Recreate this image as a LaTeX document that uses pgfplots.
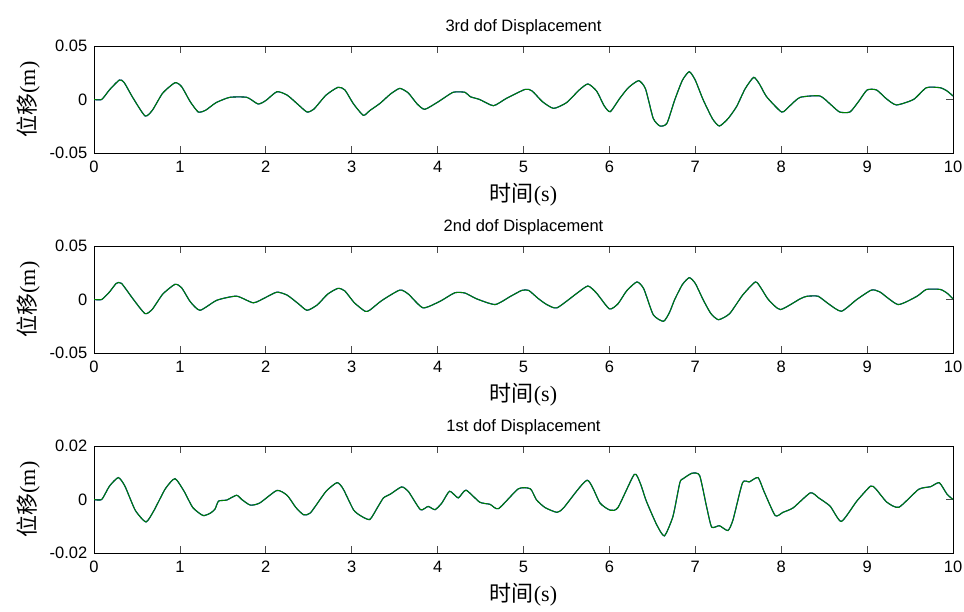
\documentclass[border=0pt]{standalone}
\usepackage{pgfplots}
\pgfplotsset{compat=1.18}
\usepackage{pgfplotstable}
\usepackage{fontspec}
\setmainfont{Liberation Sans}
\newfontfamily\cjk{Noto Sans CJK SC}
\newfontfamily\tms{Liberation Serif}
\definecolor{mgreen}{rgb}{0,0.5,0}

\pgfplotstableread{
t v
0 0
0.09 0
0.18 0.009
0.295 0.0182
0.35 0.016
0.45 0.002
0.594 -0.0154
0.68 -0.01
0.80 0.006
0.943 0.0157
1.02 0.012
1.12 -0.002
1.214 -0.0117
1.30 -0.010
1.42 -0.003
1.58 0.002
1.78 0.002
1.91 -0.0042
2.00 -0.001
2.13 0.0073
2.25 0.004
2.38 -0.005
2.48 -0.0117
2.56 -0.009
2.70 0.004
2.84 0.0114
2.92 0.009
3.02 -0.004
3.135 -0.0148
3.21 -0.0104
3.33 -0.0036
3.45 0.005
3.56 0.0104
3.66 0.006
3.76 -0.004
3.85 -0.0092
4.01 -0.002
4.18 0.0067
4.32 0.0067
4.38 0.0026
4.49 0
4.65 -0.0058
4.80 0.001
5.02 0.0095
5.10 0.008
5.22 -0.002
5.35 -0.0083
5.50 -0.003
5.65 0.009
5.75 0.0145
5.85 0.008
5.94 -0.006
6.01 -0.0114
6.12 0.001
6.22 0.011
6.34 0.0176
6.42 0.010
6.51 -0.0176
6.59 -0.0248
6.67 -0.0222
6.76 -0.0005
6.85 0.018
6.93 0.026
7.00 0.018
7.09 0
7.20 -0.018
7.28 -0.0248
7.38 -0.018
7.48 -0.0067
7.58 0.010
7.68 0.0207
7.75 0.014
7.83 0.0026
8.005 -0.0117
8.10 -0.006
8.22 0.002
8.45 0.0033
8.58 -0.005
8.68 -0.0117
8.80 -0.0117
8.90 -0.002
9.00 0.0089
9.11 0.0089
9.22 0.001
9.34 -0.0051
9.54 0
9.69 0.011
9.85 0.011
9.93 0.008
10 0.0033
}\dofthree

\pgfplotstableread{
t v
0 0
0.09 0
0.18 0.007
0.26 0.0151
0.32 0.0151
0.45 0.001
0.594 -0.0132
0.68 -0.009
0.80 0.005
0.943 0.0142
1.02 0.011
1.12 -0.002
1.234 -0.0101
1.43 -0.0007
1.66 0.0031
1.855 -0.0031
2.00 0.002
2.13 0.0069
2.25 0.004
2.38 -0.004
2.48 -0.0101
2.60 -0.005
2.72 0.005
2.84 0.0104
2.92 0.008
3.03 -0.003
3.155 -0.011
3.21 -0.010
3.35 -0.001
3.56 0.0088
3.66 0.005
3.83 -0.0078
4.03 -0.0016
4.20 0.0063
4.32 0.006
4.455 0.0006
4.67 -0.0047
4.85 0.003
4.98 0.0085
5.06 0.0085
5.17 0.001
5.27 -0.0047
5.39 -0.0078
5.62 0.0057
5.75 0.0126
5.85 0.006
6.00 -0.0088
6.10 -0.004
6.20 0.008
6.32 0.0164
6.40 0.010
6.51 -0.0142
6.63 -0.0204
6.70 -0.012
6.76 0
6.85 0.014
6.93 0.0204
7.00 0.015
7.09 0
7.18 -0.013
7.27 -0.0189
7.40 -0.0132
7.55 0.004
7.70 0.0164
7.77 0.010
7.85 0
7.99 -0.0094
8.22 0.0006
8.30 0.003
8.43 0.003
8.55 -0.004
8.70 -0.011
8.88 0
9.05 0.0088
9.15 0.007
9.36 -0.0047
9.58 0.003
9.69 0.0094
9.85 0.0094
9.93 0.006
10 0.0006
}\doftwo

\pgfplotstableread{
t v
0 0
0.09 0
0.18 0.005
0.283 0.0082
0.36 0.005
0.48 -0.004
0.605 -0.0084
0.70 -0.004
0.83 0.004
0.943 0.0078
1.05 0.003
1.15 -0.003
1.27 -0.006
1.36 -0.005
1.41 -0.0035
1.45 -0.0006
1.545 -0.0002
1.66 0.0016
1.72 0
1.82 -0.0021
1.93 -0.0013
2.13 0.0034
2.25 0.0015
2.35 -0.003
2.44 -0.0057
2.52 -0.005
2.70 0.003
2.83 0.0063
2.90 0.004
3.02 -0.0038
3.10 -0.006
3.21 -0.0075
3.30 -0.003
3.37 0.0006
3.45 0.002
3.58 0.0047
3.66 0.003
3.80 -0.0038
3.89 -0.0026
3.97 -0.0038
4.05 -0.0013
4.14 0.0031
4.24 0.0006
4.33 0.0035
4.49 -0.001
4.61 -0.0018
4.71 -0.0034
4.94 0.004
5.08 0.004
5.15 -0.0001
5.25 -0.003
5.39 -0.0048
5.47 -0.003
5.74 0.0072
5.89 -0.0013
6.01 -0.004
6.10 -0.003
6.29 0.0094
6.36 0.006
6.43 -0.0006
6.55 -0.0094
6.64 -0.0136
6.74 -0.0063
6.82 0.0063
6.86 0.0078
6.96 0.0098
7.05 0.009
7.13 -0.0025
7.19 -0.0103
7.28 -0.0098
7.38 -0.0116
7.44 -0.0075
7.55 0.0063
7.63 0.0066
7.73 0.0082
7.80 0.003
7.93 -0.006
8.02 -0.0048
8.14 -0.0031
8.34 0.0025
8.44 0.0005
8.57 -0.0025
8.70 -0.0082
8.88 -0.0006
9.04 0.005
9.10 0.004
9.23 -0.001
9.37 -0.0029
9.60 0.0038
9.74 0.0048
9.84 0.0063
9.93 0.002
10 0
}\dofone

\pgfplotsset{
  panel/.style={
    anchor=south west, scale only axis, width=859bp, height=107bp,
    xmin=0, xmax=10,
    xtick={0,1,2,3,4,5,6,7,8,9,10},
    xticklabels={0,1,2,3,4,5,6,7,8,9,10},
    scaled y ticks=false, scaled x ticks=false,
    tick align=inside,
    major tick length=7bp,
    axis line style={black, line width=0.9bp},
    tick style={black!70, line width=0.8bp},
    /pgf/number format/assume math mode=true,
    tick label style={font=\fontsize{16.5bp}{19bp}\selectfont},
    xticklabel style={anchor=north, inner sep=0pt, yshift=-8bp},
    yticklabel style={anchor=east, inner sep=0pt, xshift=-6.5bp},
    every axis title/.style={at={(axis description cs:0.5,1.14)}, anchor=base, font=\fontsize{16.5bp}{19bp}\selectfont},
    every axis x label/.style={at={(axis description cs:0.5,-0.455)}, anchor=base, font=\fontsize{22bp}{26bp}\selectfont},
    every axis y label/.style={at={(axis description cs:-0.0768,0.5)}, rotate=90, anchor=center, font=\fontsize{22bp}{26bp}\selectfont},
    xlabel={{\cjk 时间}{\tms (s)}},
    ylabel={{\cjk 位移}{\tms (m)}},
  },
  blueline/.style={blue, line width=1.1bp, smooth, tension=0.35},
  greenline/.style={mgreen, line width=1.1bp, smooth, tension=0.35},
}

\begin{document}
\begin{tikzpicture}
\useasboundingbox (0,0) rectangle (964bp,612bp);

\begin{axis}[panel, at={(94bp,459bp)},
  ymin=-0.05, ymax=0.05, ytick={-0.05,0,0.05}, yticklabels={-0.05,0,0.05},
  title={3rd dof Displacement}]
  \addplot[blueline] table[x=t,y=v] {\dofthree};
  \addplot[greenline] table[x=t,y=v] {\dofthree};
\end{axis}

\begin{axis}[panel, at={(94bp,259bp)},
  ymin=-0.05, ymax=0.05, ytick={-0.05,0,0.05}, yticklabels={-0.05,0,0.05},
  title={2nd dof Displacement}]
  \addplot[blueline] table[x=t,y=v] {\doftwo};
  \addplot[greenline] table[x=t,y=v] {\doftwo};
\end{axis}

\begin{axis}[panel, at={(94bp,59bp)},
  ymin=-0.02, ymax=0.02, ytick={-0.02,0,0.02}, yticklabels={-0.02,0,0.02},
  title={1st dof Displacement}]
  \addplot[blueline] table[x=t,y=v] {\dofone};
  \addplot[greenline] table[x=t,y=v] {\dofone};
\end{axis}
\end{tikzpicture}
\end{document}
